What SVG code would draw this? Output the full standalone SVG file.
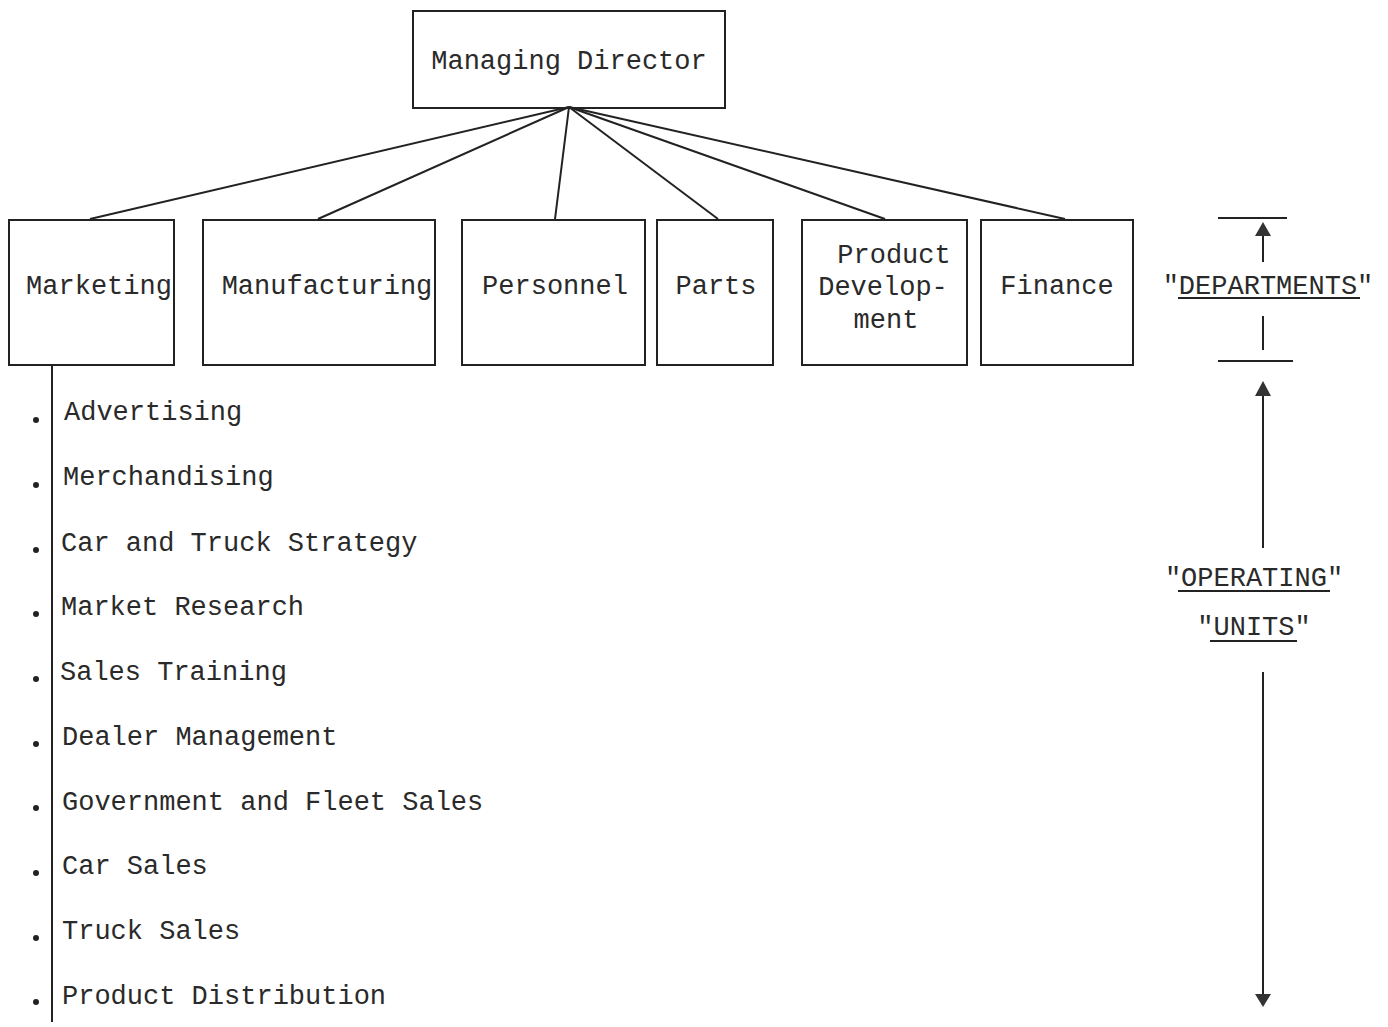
<svg xmlns="http://www.w3.org/2000/svg" width="1388" height="1027" viewBox="0 0 1388 1027">
<style>
.box{fill:none;stroke:#222;stroke-width:2}
.ln{stroke:#222;stroke-width:2;fill:none}
.t{font-family:"Liberation Mono","DejaVu Sans Mono",monospace;font-size:27px;fill:#2a2a2a}
.c{text-anchor:middle}
.ah{fill:#333}
</style>
<rect width="1388" height="1027" fill="#fff"/>
<g id="connectors">
<line class="ln" x1="569" y1="107" x2="90" y2="219"/>
<line class="ln" x1="569" y1="107" x2="318" y2="219"/>
<line class="ln" x1="569" y1="107" x2="555" y2="219"/>
<line class="ln" x1="569" y1="107" x2="718" y2="219"/>
<line class="ln" x1="569" y1="107" x2="885" y2="219"/>
<line class="ln" x1="569" y1="107" x2="1065" y2="219"/>
<line class="ln" x1="52" y1="365" x2="52" y2="1022"/>
</g>
<g id="managing-director"><rect class="box" x="413" y="11" width="312" height="97"/><text class="t c" x="569" y="69">Managing Director</text></g>
<g id="marketing"><rect class="box" x="9" y="220" width="165" height="145"/><text class="t c" x="99" y="294">Marketing</text></g>
<g id="manufacturing"><rect class="box" x="203" y="220" width="232" height="145"/><text class="t c" x="327" y="294">Manufacturing</text></g>
<g id="personnel"><rect class="box" x="462" y="220" width="183" height="145"/><text class="t c" x="555" y="294">Personnel</text></g>
<g id="parts"><rect class="box" x="657" y="220" width="116" height="145"/><text class="t c" x="716" y="294">Parts</text></g>
<g id="product-development"><rect class="box" x="802" y="220" width="165" height="145"/><text class="t c" x="894" y="263">Product</text><text class="t c" x="883" y="295">Develop-</text><text class="t c" x="886" y="328">ment</text></g>
<g id="finance"><rect class="box" x="981" y="220" width="152" height="145"/><text class="t c" x="1057" y="294">Finance</text></g>
<g id="marketing-units">
<g fill="#222"><circle cx="36" cy="420" r="3"/><circle cx="36" cy="485" r="3"/><circle cx="36" cy="550" r="3"/><circle cx="36" cy="614" r="3"/><circle cx="36" cy="679" r="3"/><circle cx="36" cy="744" r="3"/><circle cx="36" cy="808" r="3"/><circle cx="36" cy="873" r="3"/><circle cx="36" cy="938" r="3"/><circle cx="36" cy="1002" r="3"/></g>
<text class="t" x="64" y="420">Advertising</text>
<text class="t" x="63" y="485">Merchandising</text>
<text class="t" x="61" y="551">Car and Truck Strategy</text>
<text class="t" x="61" y="615">Market Research</text>
<text class="t" x="60" y="680">Sales Training</text>
<text class="t" x="62" y="745">Dealer Management</text>
<text class="t" x="62" y="810">Government and Fleet Sales</text>
<text class="t" x="62" y="874">Car Sales</text>
<text class="t" x="62" y="939">Truck Sales</text>
<text class="t" x="62" y="1004">Product Distribution</text>
</g>
<g id="scale">
<line class="ln" x1="1218" y1="218" x2="1287" y2="218"/>
<polygon class="ah" points="1263,222 1255,236 1271,236"/>
<line class="ln" x1="1263" y1="236" x2="1263" y2="262"/>
<text class="t c" x="1268" y="294">"DEPARTMENTS"</text>
<line class="ln" x1="1178" y1="298" x2="1360" y2="298"/>
<line class="ln" x1="1263" y1="316" x2="1263" y2="350"/>
<line class="ln" x1="1218" y1="361" x2="1293" y2="361"/>
<polygon class="ah" points="1263,381 1255,396 1271,396"/>
<line class="ln" x1="1263" y1="396" x2="1263" y2="548"/>
<text class="t c" x="1254" y="586">"OPERATING"</text>
<line class="ln" x1="1178" y1="591" x2="1330" y2="591"/>
<text class="t c" x="1254" y="635">"UNITS"</text>
<line class="ln" x1="1210" y1="641" x2="1297" y2="641"/>
<line class="ln" x1="1263" y1="672" x2="1263" y2="994"/>
<polygon class="ah" points="1263,1007 1255,994 1271,994"/>
</g>
</svg>
